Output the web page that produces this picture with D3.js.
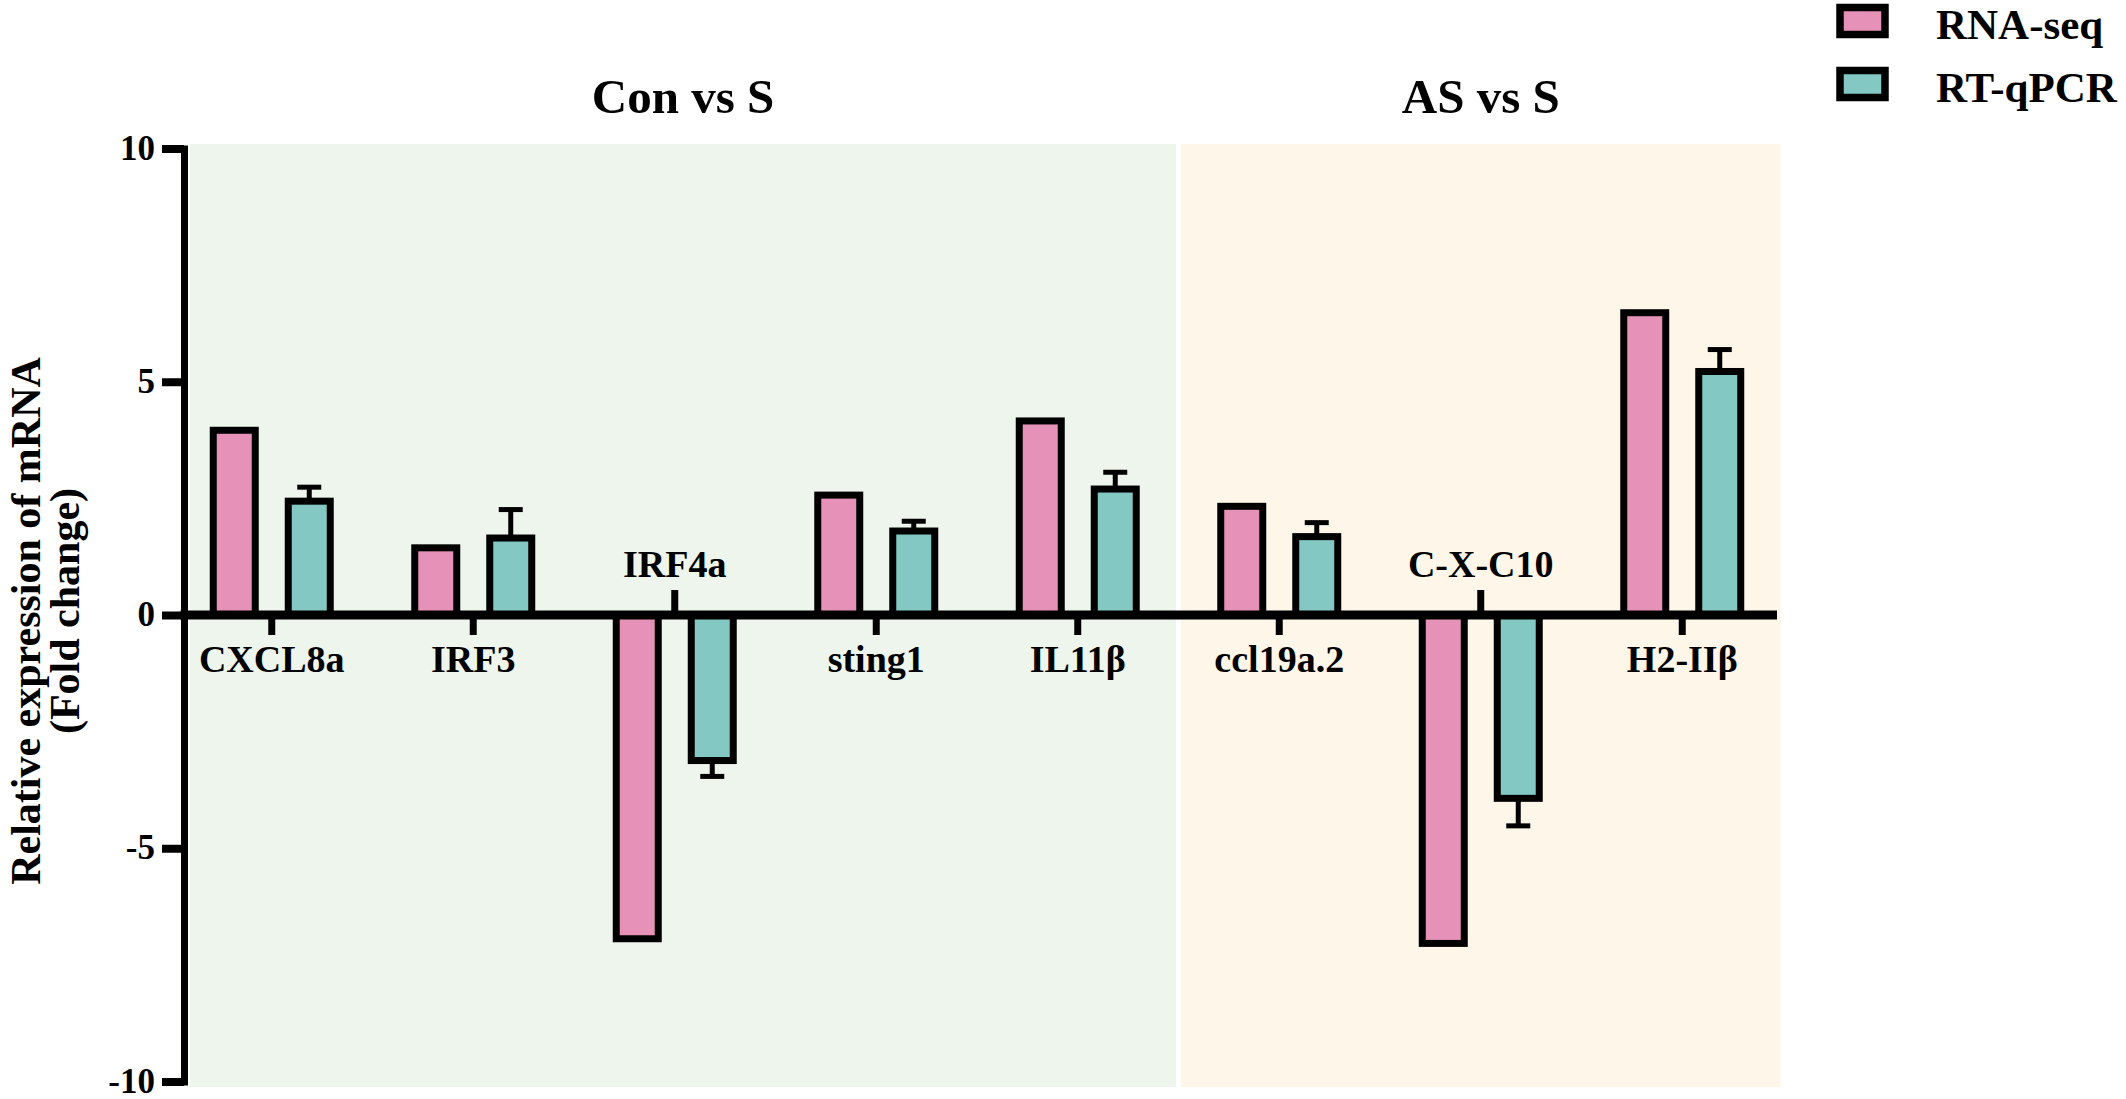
<!DOCTYPE html>
<html>
<head>
<meta charset="utf-8">
<script src="https://cdn.jsdelivr.net/npm/d3@7"></script>
<style>
  body { margin: 0; background: #fff; }
  text { font-family: "Liberation Serif", "Times New Roman", serif; font-weight: bold; fill: #000; }
</style>
</head>
<body>
<svg class="barchart" width="2126" height="1099"></svg>
<script>
// data
var categories = ["CXCL8a", "IRF3", "IRF4a", "sting1", "IL11β", "ccl19a.2", "C-X-C10", "H2-IIβ"];
var rnaSeq = [3.96, 1.44, -6.94, 2.57, 4.16, 2.33, -7.04, 6.48];
var rtQpcr = [2.44, 1.65, -3.12, 1.80, 2.70, 1.68, -3.93, 5.22];
var rtQpcrErr = [0.30, 0.61, 0.34, 0.21, 0.36, 0.30, 0.59, 0.47];
var seriesNames = ["RNA-seq", "RT-qPCR"];
var seriesColors = ["#E692B8", "#83C8C3"];
var groupNames = ["Con vs S", "AS vs S"];
var groupFirst = ["CXCL8a", "ccl19a.2"];
var groupLast = ["IL11β", "H2-IIβ"];
var groupColors = ["#EEF5EC", "#FEF7E9"];
var yTicks = [-10, -5, 0, 5, 10];

var svg = d3.select(".barchart"),
    width = +svg.attr("width"),
    height = +svg.attr("height");

var axisX = 184,
    y0Top = 148.5,
    y0Bottom = 1081.5;

var x = d3.scaleBand()
    .domain(categories)
    .range([171, 1783]);

var xs = d3.scaleBand()
    .domain(seriesNames)
    .range([-58.5, 58.5])
    .paddingInner(0.44);

var y = d3.scaleLinear()
    .domain([-10, 10])
    .range([y0Bottom, y0Top]);

var color = d3.scaleOrdinal(seriesNames, seriesColors);

function cx(c) { return x(c) + x.bandwidth() / 2; }

// background panels per comparison
var panels = groupNames.map(function(g, i) {
  return {
    name: g,
    x0: Math.max(x(groupFirst[i]) + 2.5, axisX + 6),
    x1: x(groupLast[i]) + x.bandwidth() - 2.5,
    fill: groupColors[i]
  };
});

svg.selectAll(".panel")
    .data(panels)
  .enter().append("rect")
    .attr("class", "panel")
    .attr("x", function(d) { return d.x0; })
    .attr("y", y0Top - 4.5)
    .attr("width", function(d) { return d.x1 - d.x0; })
    .attr("height", y0Bottom - y0Top + 10)
    .attr("fill", function(d) { return d.fill; });

svg.selectAll(".panel-title")
    .data(panels)
  .enter().append("text")
    .attr("class", "panel-title")
    .attr("x", function(d) { return (d.x0 + d.x1) / 2; })
    .attr("y", 113)
    .attr("text-anchor", "middle")
    .style("font-size", "49px")
    .text(function(d) { return d.name; });

// bars
var rows = categories.map(function(c, i) {
  return {
    cat: c,
    values: [
      { series: seriesNames[0], value: rnaSeq[i], err: 0 },
      { series: seriesNames[1], value: rtQpcr[i], err: rtQpcrErr[i] }
    ]
  };
});

var group = svg.selectAll(".cat")
    .data(rows)
  .enter().append("g")
    .attr("class", "cat")
    .attr("transform", function(d) { return "translate(" + cx(d.cat) + ",0)"; });

var bar = group.selectAll(".bar")
    .data(function(d) { return d.values; })
  .enter().append("g")
    .attr("class", "bar");

bar.filter(function(d) { return d.err > 0; }).each(function(d) {
  var g = d3.select(this),
      mid = xs(d.series) + xs.bandwidth() / 2,
      end = d.value + (d.value < 0 ? -d.err : d.err);
  g.append("line")
      .attr("x1", mid).attr("x2", mid)
      .attr("y1", y(d.value)).attr("y2", y(end))
      .attr("stroke", "#000")
      .attr("stroke-width", 5);
  g.append("line")
      .attr("x1", mid - 12).attr("x2", mid + 12)
      .attr("y1", y(end)).attr("y2", y(end))
      .attr("stroke", "#000")
      .attr("stroke-width", 5);
});

bar.append("rect")
    .attr("x", function(d) { return xs(d.series); })
    .attr("y", function(d) { return y(Math.max(0, d.value)); })
    .attr("width", xs.bandwidth())
    .attr("height", function(d) { return Math.abs(y(d.value) - y(0)); })
    .attr("fill", function(d) { return color(d.series); })
    .attr("stroke", "#000")
    .attr("stroke-width", 7);

// x axis at zero
svg.append("line")
    .attr("x1", axisX - 3.5)
    .attr("x2", 1777)
    .attr("y1", y(0))
    .attr("y2", y(0))
    .attr("stroke", "#000")
    .attr("stroke-width", 9);

var neg = function(c) { return rnaSeq[categories.indexOf(c)] < 0; };

svg.selectAll(".xtick")
    .data(categories)
  .enter().append("line")
    .attr("class", "xtick")
    .attr("x1", cx).attr("x2", cx)
    .attr("y1", y(0))
    .attr("y2", function(c) { return neg(c) ? y(0) - 25 : y(0) + 20; })
    .attr("stroke", "#000")
    .attr("stroke-width", 7);

svg.selectAll(".xlabel")
    .data(categories)
  .enter().append("text")
    .attr("class", "xlabel")
    .attr("x", cx)
    .attr("y", function(c) { return neg(c) ? y(0) - 38 : y(0) + 57; })
    .attr("text-anchor", "middle")
    .style("font-size", "38px")
    .text(function(c) { return c; });

// y axis
var yAxis = svg.append("g")
    .attr("transform", "translate(" + axisX + ",0)")
    .call(d3.axisLeft(y)
      .tickValues(yTicks)
      .tickSize(22)
      .tickSizeOuter(0)
      .tickPadding(7)
      .tickFormat(function(d) { return String(d); }));

yAxis.select(".domain")
    .attr("stroke-width", 7)
    .attr("stroke-linecap", "square");
yAxis.selectAll(".tick line").attr("stroke-width", 8);
yAxis.selectAll(".tick text")
    .attr("dy", "0.3em")
    .style("font-size", "35px")
    .style("font-family", "'Liberation Serif', 'Times New Roman', serif")
    .style("font-weight", "bold");

svg.append("text")
    .attr("transform", "translate(40,621) rotate(-90)")
    .attr("text-anchor", "middle")
    .style("font-size", "42px")
    .text("Relative expression of mRNA");

svg.append("text")
    .attr("transform", "translate(79,611) rotate(-90)")
    .attr("text-anchor", "middle")
    .style("font-size", "42px")
    .text("(Fold change)");

// legend
var legend = svg.selectAll(".legend")
    .data(seriesNames)
  .enter().append("g")
    .attr("class", "legend")
    .attr("transform", function(d, i) { return "translate(1840," + (7.5 + i * 63) + ")"; });

legend.append("rect")
    .attr("width", 45)
    .attr("height", 27)
    .attr("fill", function(d) { return color(d); })
    .attr("stroke", "#000")
    .attr("stroke-width", 7.5);

legend.append("text")
    .attr("x", 96)
    .attr("y", 31.5)
    .style("font-size", "43px")
    .text(function(d) { return d; });
</script>
</body>
</html>
